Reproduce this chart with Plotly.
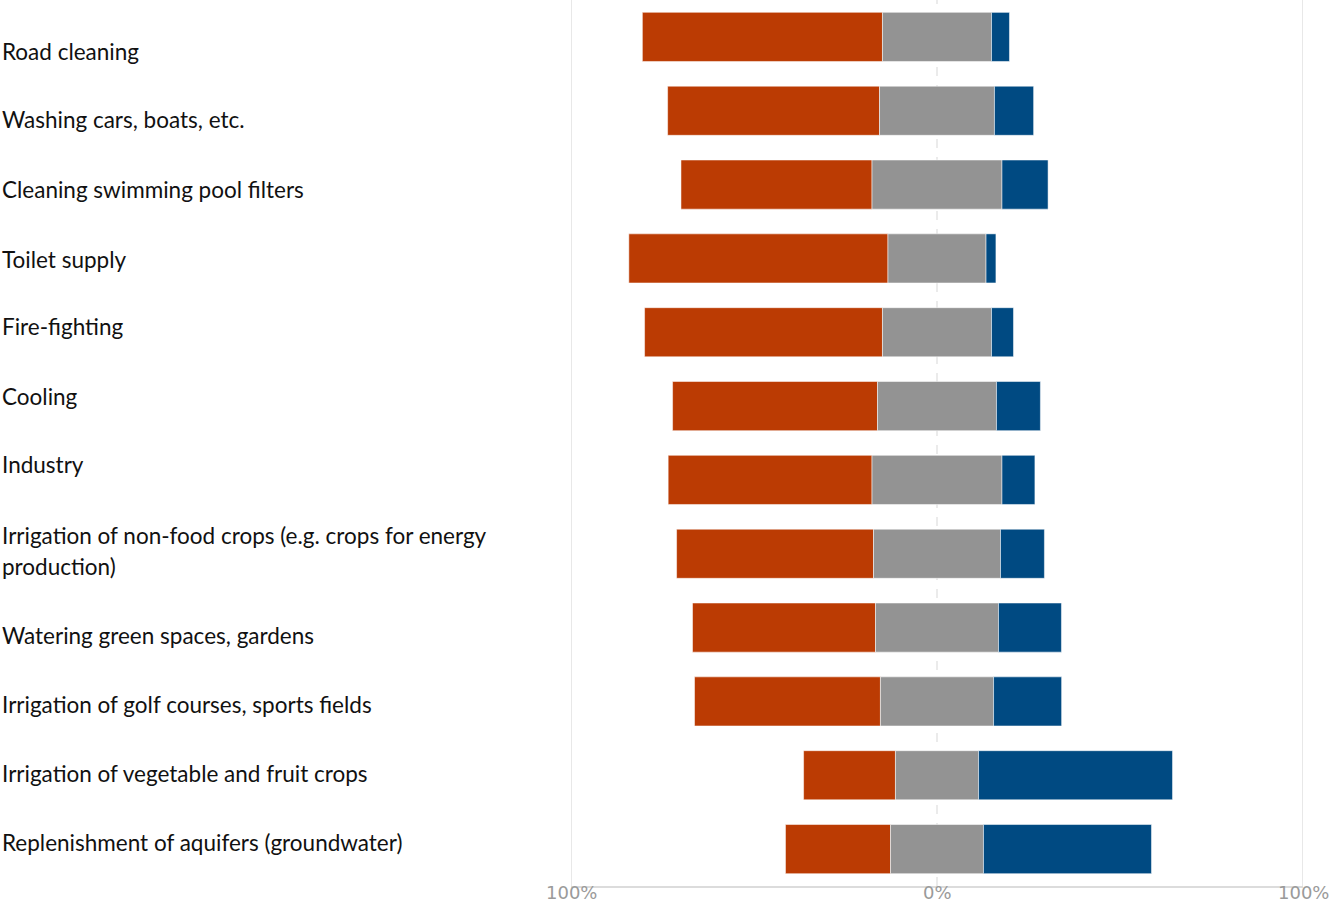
import plotly.graph_objects as go

categories = [
    "Road cleaning",
    "Washing cars, boats, etc.",
    "Cleaning swimming pool filters",
    "Toilet supply",
    "Fire-fighting",
    "Cooling",
    "Industry",
    "Irrigation of non-food crops (e.g. crops for energy<br>production)",
    "Watering green spaces, gardens",
    "Irrigation of golf courses, sports fields",
    "Irrigation of vegetable and fruit crops",
    "Replenishment of aquifers (groundwater)",
]
disagree = [65.6, 57.9, 52.2, 70.8, 65.0, 56.0, 55.7, 53.8, 50.0, 50.8, 25.1, 28.7]
neutral = [29.8, 31.4, 35.5, 26.8, 29.8, 32.5, 35.5, 34.7, 33.6, 30.9, 22.7, 25.4]
agree = [4.9, 10.7, 12.6, 2.7, 6.0, 12.0, 9.0, 12.0, 17.2, 18.6, 53.0, 45.9]

tick_vals = [-100, 0, 100]
tick_text = ["100%", "0%", "100%"]

ORANGE = "#BB3B03"
GREY = "#939393"
BLUE = "#004A82"
EDGE = dict(color="rgba(255,255,255,0.5)", width=1)

PLOT_H = 886  # plot-area height in pixels (904 - bottom margin)
BOTTOM = 18
# vertical pixel position of each label line, top to bottom
label_lines_px = [[51], [120], [189], [259], [327], [396], [465],
                  [535, 566], [635], [704], [773], [842]]

half = [n / 2 for n in neutral]
fig = go.Figure()
fig.add_trace(go.Bar(
    y=categories, x=disagree, base=[-h - d for h, d in zip(half, disagree)],
    orientation="h", marker=dict(color=ORANGE, line=EDGE),
    width=0.665, showlegend=False, hoverinfo="skip",
))
fig.add_trace(go.Bar(
    y=categories, x=neutral, base=[-h for h in half],
    orientation="h", marker=dict(color=GREY, line=EDGE),
    width=0.665, showlegend=False, hoverinfo="skip",
))
fig.add_trace(go.Bar(
    y=categories, x=agree, base=half,
    orientation="h", marker=dict(color=BLUE, line=EDGE),
    width=0.665, showlegend=False, hoverinfo="skip",
))

# reference lines at both ends and a dashed centre line
for v in tick_vals:
    fig.add_shape(
        type="line", xref="x", yref="paper", x0=v, x1=v, y0=0, y1=1,
        line=dict(color="#e0e0e0" if v else "#dedede", width=1.5 if v else 1.2,
                  dash="solid" if v else "dash"),
        layer="below",
    )

# percentage labels under the axis, kept inside the page
for v, t in zip(tick_vals, tick_text):
    fig.add_annotation(
        x=v, xref="x", y=-BOTTOM / PLOT_H, yref="paper", text=t, showarrow=False,
        xanchor="center", yanchor="bottom", borderpad=0,
        font=dict(family="DejaVu Sans, sans-serif", size=18, color="#9a9a9a"),
    )

# left-aligned category labels, one annotation per text line
for name, ys in zip(categories, label_lines_px):
    for line, ypx in zip(name.split("<br>"), ys):
        fig.add_annotation(
            x=-0.7795, xref="paper", y=1 - ypx / PLOT_H, yref="paper",
            text=line, showarrow=False, xanchor="left", yanchor="middle", align="left",
            font=dict(family="Lato, Carlito, sans-serif", size=22.5, color="#111111"),
        )

fig.update_layout(
    width=1331, height=904,
    margin=dict(l=571, r=28, t=0, b=BOTTOM),
    paper_bgcolor="white", plot_bgcolor="white",
    barmode="overlay",
    xaxis=dict(
        range=[-100, 100], showticklabels=False,
        showgrid=False, zeroline=False, showline=True, linecolor="#dcdcdc", linewidth=1.5,
        ticks="", automargin=False, fixedrange=True,
    ),
    yaxis=dict(
        autorange="reversed", showticklabels=False, showgrid=False, zeroline=False,
        ticks="", automargin=False, fixedrange=True,
    ),
)

fig.write_html("out.html")
